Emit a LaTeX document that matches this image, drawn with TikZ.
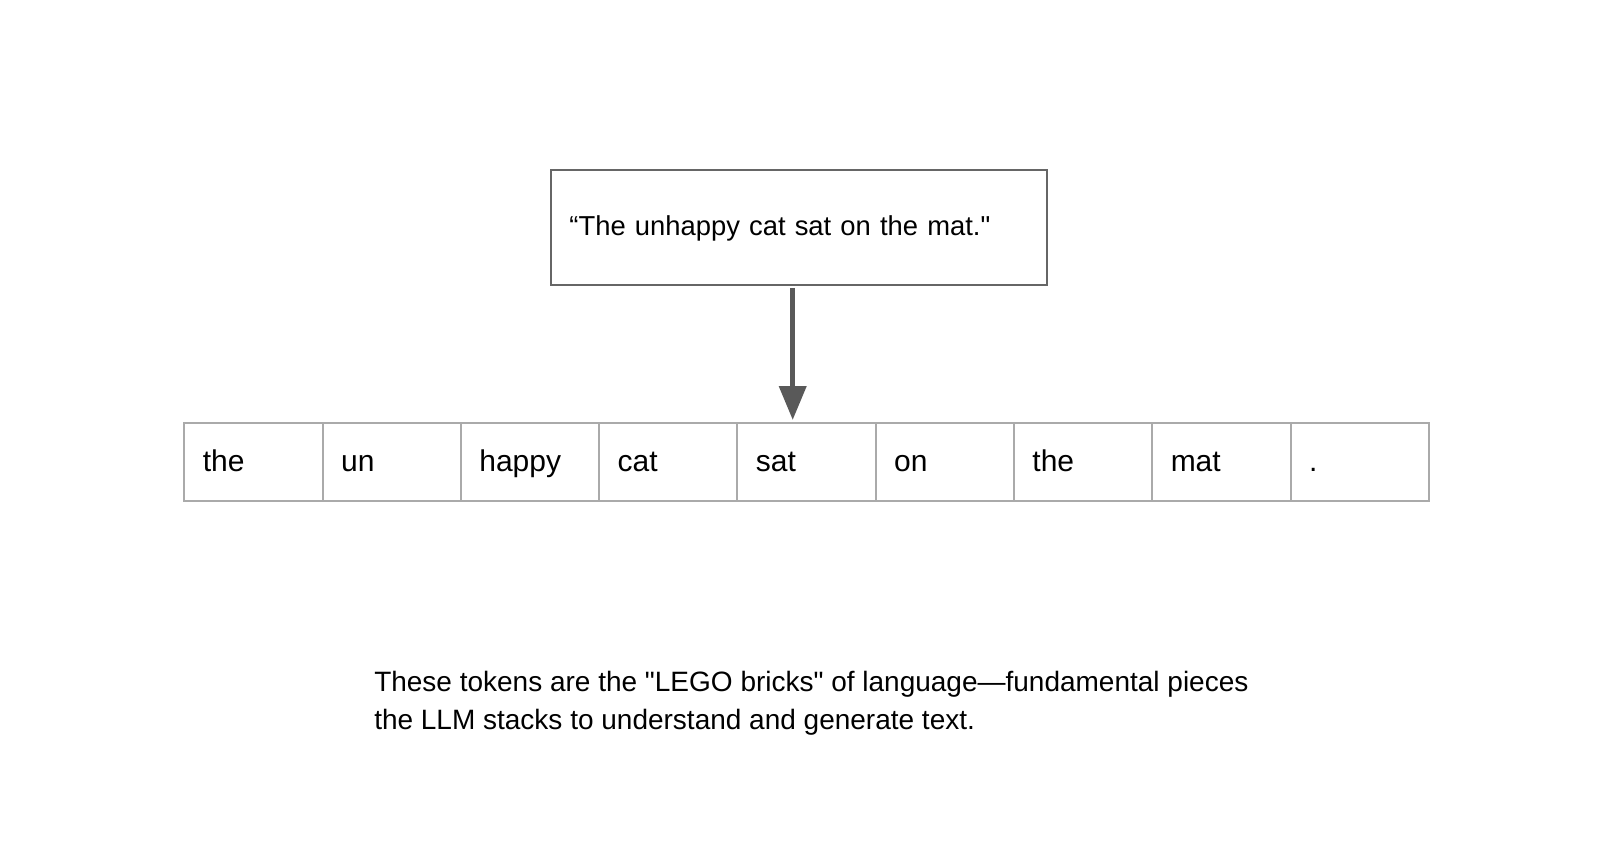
\documentclass[tikz,border=0pt]{standalone}
\usepackage{fontspec}
\setmainfont{Liberation Sans}
\newfontfamily\plainsans{Liberation Sans}
\usetikzlibrary{arrows.meta,positioning}

\definecolor{boxline}{HTML}{666666}
\definecolor{tokline}{HTML}{AAAAAA}
\definecolor{arrowgray}{HTML}{595959}

\begin{document}
\begin{tikzpicture}[x=0.5122pt, y=-0.5122pt,
        sentbox/.style={draw=boxline, line width=1pt, outer sep=0pt,
            minimum width=247.9pt, minimum height=57.4pt, inner xsep=9.2pt,
            text width=229.5pt, text height=10.5pt, text depth=2.5pt,
            align=left, font=\plainsans\fontsize{13.7}{16}\selectfont},
        token/.style={draw=tokline, line width=1pt, outer sep=0pt,
            minimum width=69.15pt, minimum height=38.9pt, inner xsep=9.2pt,
            text width=50.7pt, text height=11.2pt, text depth=2pt,
            align=left, font=\plainsans\fontsize{15}{17}\selectfont},
        pointer/.style={draw=arrowgray, line width=2.6pt,
            -{Triangle[width=13.3pt,length=17pt]}}]
        \useasboundingbox (0, 0) rectangle (1568, 841.6);

        \node (sent) at (780, 222) [sentbox] {“The unhappy cat sat on the mat."};

        \node (tok1) at (180, 413) [token, anchor=north west] {the};
        \node (tok2) [token, right=0pt of tok1] {un};
        \node (tok3) [token, right=0pt of tok2] {happy};
        \node (tok4) [token, right=0pt of tok3] {cat};
        \node (tok5) [token, right=0pt of tok4] {sat};
        \node (tok6) [token, right=0pt of tok5] {on};
        \node (tok7) [token, right=0pt of tok6] {the};
        \node (tok8) [token, right=0pt of tok7] {mat};
        \node (tok9) [token, right=0pt of tok8] {.};

        \draw [pointer] ([xshift=-3.1pt, yshift=-1.5pt]sent.south)
            -- ([xshift=-3.1pt, yshift=1.5pt]sent.south |- tok5.north);

        \node (caption) at (365, 655) [anchor=north west, inner sep=0pt, align=left,
            font=\plainsans\fontsize{14}{19}\selectfont]
            {These tokens are the "LEGO bricks" of language—fundamental pieces \\
             the LLM stacks to understand and generate text.};
    \end{tikzpicture}
\end{document}
